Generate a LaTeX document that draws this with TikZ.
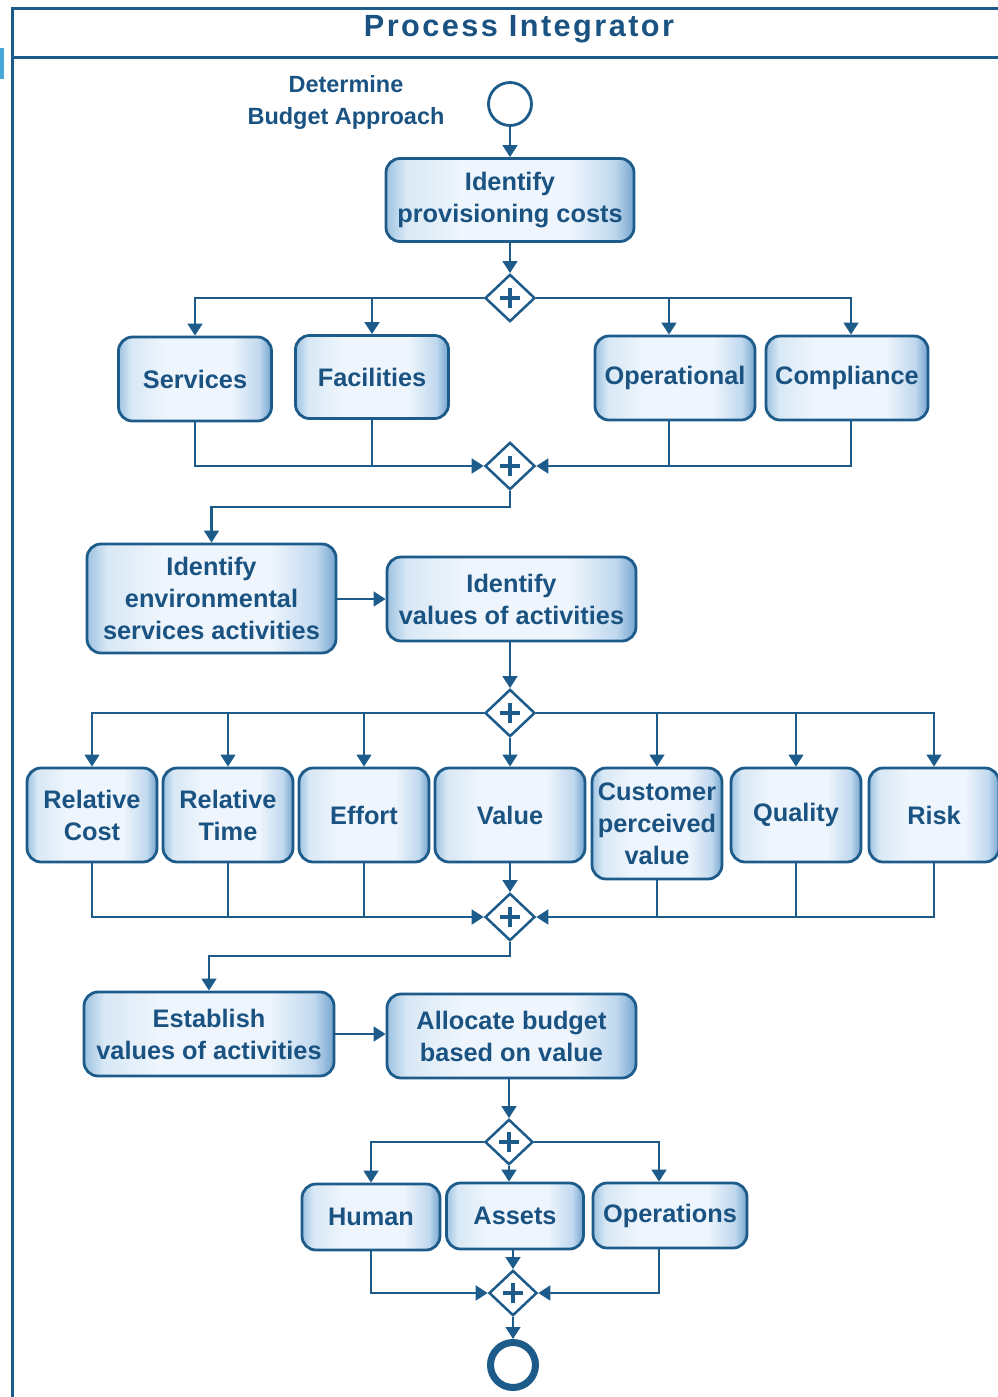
\documentclass[tikz,border=0pt]{standalone}
\usepackage{fontspec}
\setmainfont{Liberation Sans}
\newfontfamily\titlefont[LetterSpace=8]{Liberation Sans}
\usetikzlibrary{arrows.meta,shapes.geometric,calc}

\definecolor{ink}{HTML}{1D5B8A}
\definecolor{txt}{HTML}{1A5382}
\definecolor{shA}{HTML}{9DC2E0}
\definecolor{shB}{HTML}{D8E8F5}
\definecolor{shC}{HTML}{EEF5FC}
\definecolor{shD}{HTML}{C0D8EE}
\definecolor{shE}{HTML}{74A4CE}
\definecolor{tab}{HTML}{4AA8D8}

% left-to-right fill of the activity boxes
\pgfdeclarehorizontalshading{boxfill}{100bp}{color(0bp)=(shA); color(25bp)=(shA); color(29bp)=(shB); color(40bp)=(shC); color(62bp)=(shC); color(71bp)=(shD); color(75bp)=(shE); color(100bp)=(shE)}

\tikzset{
  conn/.style={draw=ink, line width=1.9pt},
  arr/.style={conn, -{Triangle[length=9pt,width=11pt]}},
  frameline/.style={draw=ink, line width=2.25pt},
  task/.style={rectangle, rounded corners=10.5pt, draw=ink, line width=2.1pt,
    shading=boxfill, text=txt, font=\bfseries\fontsize{19}{24}\selectfont,
    align=center, inner sep=0pt},
  gate/.style={diamond, draw=ink, line width=1.9pt, fill=white,
    minimum width=37.5pt, minimum height=35.5pt, inner sep=0pt,
    path picture={
      \draw[ink, line width=2.5pt]
        ([xshift=-7.5pt]path picture bounding box.center) -- ([xshift=7.5pt]path picture bounding box.center)
        ([yshift=-7.5pt]path picture bounding box.center) -- ([yshift=7.5pt]path picture bounding box.center);
    }},
}

\begin{document}
\begin{tikzpicture}[x=0.75pt,y=-0.75pt]
\useasboundingbox (0,0) rectangle (997,1397);

% pool frame and header
\fill[tab] (0,48) rectangle (4,79);
\draw[frameline] (12,1400) -- (12,8) -- (1000,8);
\draw[frameline] (12,57) -- (1000,57);
\node[text=txt, font=\titlefont\bfseries\fontsize{23}{26}\selectfont] (title) at (519,29) {Process Integrator};

% start event
\node[circle, draw=ink, line width=2.1pt, fill=white, minimum size=32.25pt, inner sep=0pt] (start) at (510,104) {};
\node[text=txt, font=\bfseries\fontsize{17.6}{24}\selectfont, align=center] (startlabel) at (346,102) {Determine\\Budget Approach};

% first block
\node[task, minimum width=186pt, minimum height=62.25pt] (b1) at (510,200) {Identify\\provisioning costs};
\node[gate] (g1) at (510,298) {};
\node[task, minimum width=114.75pt, minimum height=63pt] (sv) at (195,379) {Services};
\node[task, minimum width=114.75pt, minimum height=62.25pt] (fa) at (372,377) {Facilities};
\node[task, minimum width=120pt, minimum height=63pt] (op) at (675,378) {Operational};
\node[task, minimum width=121.5pt, minimum height=63pt] (co) at (847,378) {Compliance};
\node[gate] (g2) at (510,466) {};

% second block
\node[task, minimum width=186.75pt, minimum height=81.75pt] (b2) at (211.5,598.5) {Identify\\environmental\\services activities};
\node[task, minimum width=186.75pt, minimum height=63pt] (b3) at (511.5,599) {Identify\\values of activities};
\node[gate] (g3) at (510,713) {};
\node[task, minimum width=97.5pt, minimum height=70.5pt] (rc) at (92,815) {Relative\\Cost};
\node[task, minimum width=97.5pt, minimum height=70.5pt] (rt) at (228,815) {Relative\\Time};
\node[task, minimum width=97.5pt, minimum height=70.5pt] (ef) at (364,815) {Effort};
\node[task, minimum width=112.5pt, minimum height=70.5pt] (va) at (510,815) {Value};
\node[task, minimum width=97.5pt, minimum height=83.25pt] (cp) at (657,823.5) {Customer\\perceived\\value};
\node[task, minimum width=97.5pt, minimum height=70.5pt] (qu) at (796,815) {Quality};
\node[task, minimum width=97.5pt, minimum height=70.5pt] (ri) at (934,815) {Risk};
\node[gate] (g4) at (510,917) {};

% third block
\node[task, minimum width=187.5pt, minimum height=63pt] (b4) at (209,1034) {Establish\\values of activities};
\node[task, minimum width=186.75pt, minimum height=63pt] (b5) at (511.5,1036) {Allocate budget\\based on value};
\node[gate, minimum width=36pt, minimum height=34pt] (g5) at (509,1142) {};
\node[task, minimum width=103.5pt, minimum height=49.5pt] (hu) at (371,1217) {Human};
\node[task, minimum width=102.75pt, minimum height=49.5pt] (as) at (515,1216) {Assets};
\node[task, minimum width=115.5pt, minimum height=48.75pt] (ops) at (670,1215.5) {Operations};
\node[gate, minimum width=36pt, minimum height=34pt] (g6) at (513,1293) {};

% end event
\node[circle, draw=ink, line width=5.25pt, fill=white, minimum size=33.75pt, inner sep=0pt] (end) at (513,1365) {};

% drop points that sit off the box centres
\coordinate (opin) at ([xshift=-4.5pt]op.north);
\coordinate (opout) at ([xshift=-4.5pt]op.south);
\coordinate (coin) at ([xshift=3pt]co.north);
\coordinate (coout) at ([xshift=3pt]co.south);
\coordinate (opsin) at ([xshift=-8.25pt]ops.north);
\coordinate (opsout) at ([xshift=-8.25pt]ops.south);

% flows
\draw[arr] (start) -- (b1);
\draw[arr] (b1) -- (g1);
\draw[arr] (g1.west) -| (sv.north);
\draw[arr] (g1.west) -| (fa.north);
\draw[arr] (g1.east) -| (opin);
\draw[arr] (g1.east) -| (coin);
\draw[arr] (sv.south) |- (g2.west);
\draw[conn] (fa.south) -- (fa.south |- g2.west);
\draw[arr] (coout) |- (g2.east);
\draw[conn] (opout) -- (opout |- g2.east);
\draw[arr] (g2.south) -- ++(0,16) -| (b2.north);
\draw[arr] (b2.east |- b3.west) -- (b3.west);
\draw[arr] (b3.south -| g3.north) -- (g3.north);
\draw[arr] (g3.west) -| (rc.north);
\draw[arr] (g3.west) -| (rt.north);
\draw[arr] (g3.west) -| (ef.north);
\draw[arr] (g3.south) -- (va.north);
\draw[arr] (g3.east) -| (cp.north);
\draw[arr] (g3.east) -| (qu.north);
\draw[arr] (g3.east) -| (ri.north);
\draw[arr] (rc.south) |- (g4.west);
\draw[conn] (rt.south) -- (rt.south |- g4.west);
\draw[conn] (ef.south) -- (ef.south |- g4.west);
\draw[arr] (va.south) -- (g4.north);
\draw[arr] (ri.south) |- (g4.east);
\draw[conn] (qu.south) -- (qu.south |- g4.east);
\draw[conn] (cp.south) -- (cp.south |- g4.east);
\draw[arr] (g4.south) -- ++(0,14) -| (b4.north);
\draw[arr] (b4.east) -- (b4.east -| b5.west);
\draw[arr] (b5.south -| g5.north) -- (g5.north);
\draw[arr] (g5.west) -| (hu.north);
\draw[arr] (g5.east) -| (opsin);
\draw[arr] (g5.south) -- (g5.south |- as.north);
\draw[arr] (hu.south) |- (g6.west);
\draw[arr] (opsout) |- (g6.east);
\draw[arr] (as.south -| g6.north) -- (g6.north);
\draw[arr] (g6.south) -- (end.north);
\end{tikzpicture}
\end{document}
